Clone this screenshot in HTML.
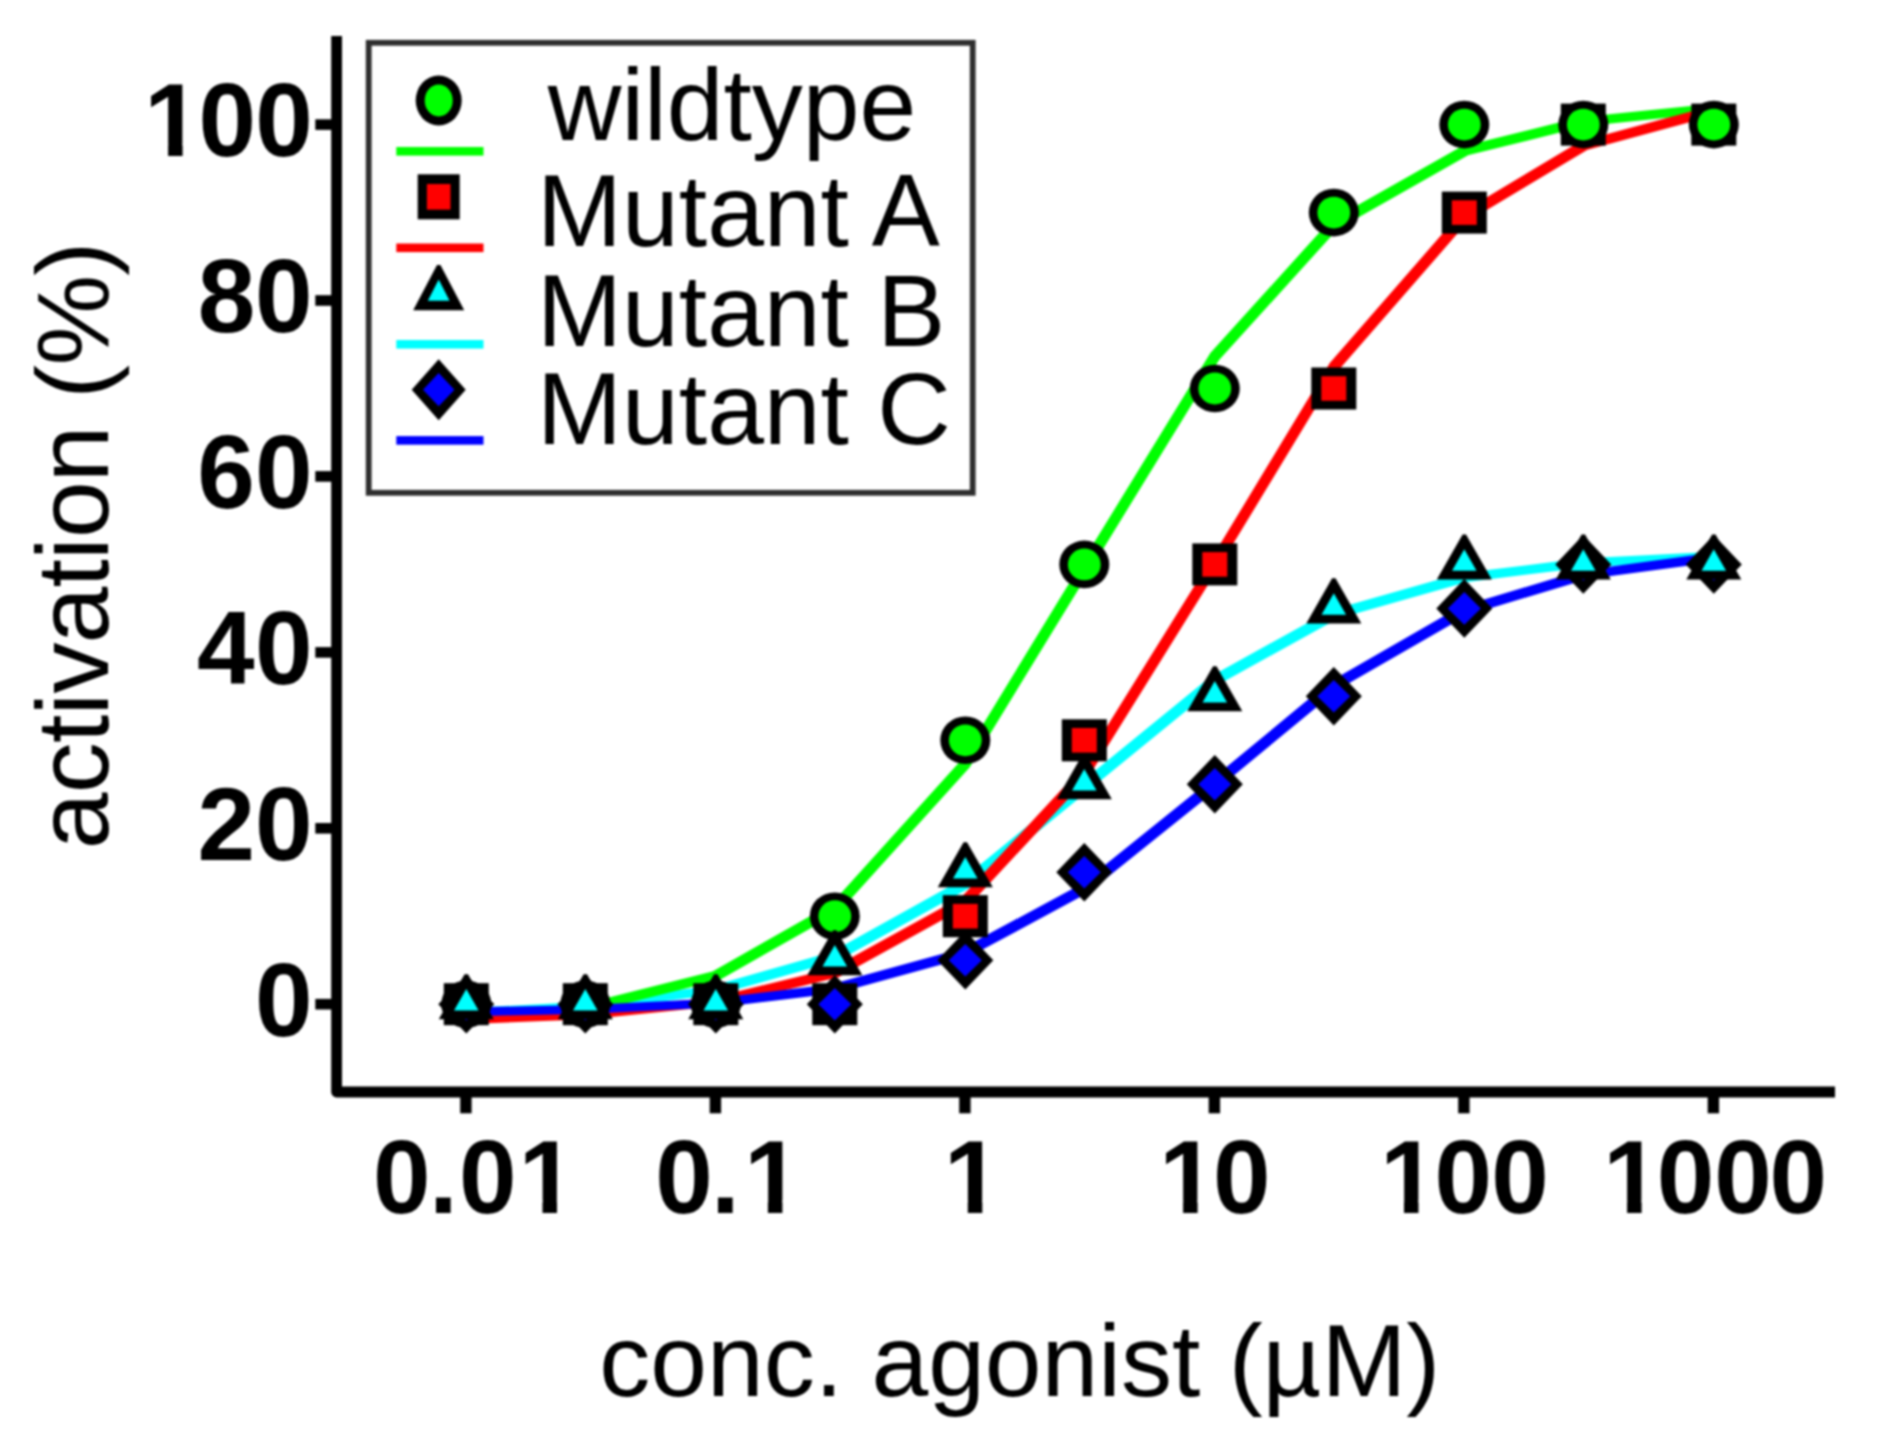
<!DOCTYPE html>
<html><head><meta charset="utf-8"><title>Dose response</title>
<style>
html,body{margin:0;padding:0;background:#fff;}
body{width:1877px;height:1454px;overflow:hidden;}
svg{display:block;filter:blur(0.9px);}
text{font-family:"Liberation Sans",Arial,Helvetica,sans-serif;fill:#000;}
.b{font-weight:bold;font-size:103.5px;}
.r{font-size:102px;}
</style></head><body>
<svg width="1877" height="1454" viewBox="0 0 1877 1454">
<rect width="1877" height="1454" fill="#fff"/>
<path d="M336.6 36V1092H1835" fill="none" stroke="#000" stroke-width="10.8" stroke-linejoin="round"/>
<rect x="315.3" y="998.9" width="18" height="10.6" fill="#000"/>
<rect x="315.3" y="823.0" width="18" height="10.6" fill="#000"/>
<rect x="315.3" y="647.1" width="18" height="10.6" fill="#000"/>
<rect x="315.3" y="471.1" width="18" height="10.6" fill="#000"/>
<rect x="315.3" y="295.2" width="18" height="10.6" fill="#000"/>
<rect x="315.3" y="119.3" width="18" height="10.6" fill="#000"/>
<rect x="460.2" y="1094" width="11.4" height="19.3" fill="#000"/>
<rect x="709.7" y="1094" width="11.4" height="19.3" fill="#000"/>
<rect x="959.2" y="1094" width="11.4" height="19.3" fill="#000"/>
<rect x="1208.7" y="1094" width="11.4" height="19.3" fill="#000"/>
<rect x="1458.2" y="1094" width="11.4" height="19.3" fill="#000"/>
<rect x="1707.7" y="1094" width="11.4" height="19.3" fill="#000"/>
<text class="b" x="144.1 198.5 255.3" y="156.4">100</text><rect x="149.3" y="143.8" width="18.8" height="14.5" fill="#fff"/><rect x="182.6" y="143.8" width="17.6" height="14.5" fill="#fff"/>
<text class="b" x="197.7 255.0" y="332.3">80</text>
<text class="b" x="197.2 255.0" y="508.2">60</text>
<text class="b" x="196.9 255.0" y="684.2">40</text>
<text class="b" x="197.5 255.0" y="860.1">20</text>
<text class="b" x="255.0" y="1036.0">0</text>
<text class="b" x="373.0 429.0 459.0 518.5" y="1212.8">0.01</text><rect x="523.7" y="1200.2" width="18.8" height="14.5" fill="#fff"/><rect x="557.0" y="1200.2" width="17.6" height="14.5" fill="#fff"/>
<text class="b" x="655.2 711.1 743.9" y="1212.8">0.1</text><rect x="749.1" y="1200.2" width="18.8" height="14.5" fill="#fff"/><rect x="782.4" y="1200.2" width="17.6" height="14.5" fill="#fff"/>
<text class="b" x="943.8" y="1212.8">1</text><rect x="949.0" y="1200.2" width="18.8" height="14.5" fill="#fff"/><rect x="982.3" y="1200.2" width="17.6" height="14.5" fill="#fff"/>
<text class="b" x="1159.1 1213.1" y="1212.8">10</text><rect x="1164.3" y="1200.2" width="18.8" height="14.5" fill="#fff"/><rect x="1197.6" y="1200.2" width="17.6" height="14.5" fill="#fff"/>
<text class="b" x="1380.0 1434.6 1491.3" y="1212.8">100</text><rect x="1385.2" y="1200.2" width="18.8" height="14.5" fill="#fff"/><rect x="1418.5" y="1200.2" width="17.6" height="14.5" fill="#fff"/>
<text class="b" x="1603.1 1656.8 1714.3 1769.5" y="1212.8">1000</text><rect x="1608.3" y="1200.2" width="18.8" height="14.5" fill="#fff"/><rect x="1641.6" y="1200.2" width="17.6" height="14.5" fill="#fff"/>
<text class="r" x="1019.8" y="1396" text-anchor="middle">conc. agonist (µM)</text>
<text class="r" transform="translate(108 545.8) rotate(-90)" text-anchor="middle" style="letter-spacing:-0.8px">activation (%)</text>
<polygon points="463.1,1009.2 582.1,1003.1 712.6,986.8 831.6,953.1 962.1,880.8 1081.1,783.5 1211.6,677.1 1330.6,611.4 1461.1,574.4 1580.1,559.7 1710.6,553.0 1717.0,553.0 1717.0,559.4 1586.5,566.1 1467.5,580.8 1337.0,617.8 1218.0,683.5 1087.5,789.9 968.5,887.2 838.0,959.5 719.0,993.2 588.5,1009.5 469.5,1015.6 463.1,1015.6" fill="#00ffff" stroke="#00ffff" stroke-width="2.2" stroke-linejoin="round"/>
<polygon points="463.1,1017.4 582.1,1005.2 712.6,972.6 831.6,905.2 962.1,760.7 1081.1,565.9 1211.6,353.2 1330.6,221.8 1461.1,147.9 1580.1,118.4 1710.6,105.0 1717.0,105.0 1717.0,111.4 1586.5,124.8 1467.5,154.3 1337.0,228.2 1218.0,359.6 1087.5,572.3 968.5,767.1 838.0,911.6 719.0,979.0 588.5,1011.6 469.5,1023.8 463.1,1023.8" fill="#00ff00" stroke="#00ff00" stroke-width="2.2" stroke-linejoin="round"/>
<polygon points="463.1,1016.5 582.1,1011.7 712.6,998.6 831.6,969.8 962.1,898.0 1081.1,770.1 1211.6,560.4 1330.6,363.8 1461.1,214.0 1580.1,142.6 1710.6,107.4 1717.0,107.4 1717.0,113.8 1586.5,149.0 1467.5,220.4 1337.0,370.2 1218.0,566.8 1087.5,776.5 968.5,904.4 838.0,976.2 719.0,1005.0 588.5,1018.1 469.5,1022.9 463.1,1022.9" fill="#ff0000" stroke="#ff0000" stroke-width="2.2" stroke-linejoin="round"/>
<polygon points="463.1,1008.7 582.1,1006.3 712.6,999.8 831.6,985.4 962.1,949.5 1081.1,885.5 1211.6,780.7 1330.6,682.4 1461.1,607.5 1580.1,571.8 1710.6,554.2 1717.0,554.2 1717.0,560.6 1586.5,578.2 1467.5,613.9 1337.0,688.8 1218.0,787.1 1087.5,891.9 968.5,955.9 838.0,991.8 719.0,1006.2 588.5,1012.7 469.5,1015.1 463.1,1015.1" fill="#0000ff" stroke="#0000ff" stroke-width="2.2" stroke-linejoin="round"/>
<rect x="443.8" y="983.2" width="45.0" height="42" fill="#000"/><rect x="453.8" y="991.9" width="25.0" height="24.6" fill="#ff0000"/>
<rect x="562.8" y="983.2" width="45.0" height="42" fill="#000"/><rect x="572.8" y="991.9" width="25.0" height="24.6" fill="#ff0000"/>
<rect x="693.3" y="983.2" width="45.0" height="42" fill="#000"/><rect x="703.3" y="991.9" width="25.0" height="24.6" fill="#ff0000"/>
<rect x="812.3" y="983.2" width="45.0" height="42" fill="#000"/><rect x="822.3" y="991.9" width="25.0" height="24.6" fill="#ff0000"/>
<rect x="942.8" y="895.2" width="45.0" height="42" fill="#000"/><rect x="952.8" y="903.9" width="25.0" height="24.6" fill="#ff0000"/>
<rect x="1061.8" y="719.3" width="45.0" height="42" fill="#000"/><rect x="1071.8" y="728.0" width="25.0" height="24.6" fill="#ff0000"/>
<rect x="1192.3" y="543.4" width="45.0" height="42" fill="#000"/><rect x="1202.3" y="552.1" width="25.0" height="24.6" fill="#ff0000"/>
<rect x="1311.3" y="367.5" width="45.0" height="42" fill="#000"/><rect x="1321.3" y="376.2" width="25.0" height="24.6" fill="#ff0000"/>
<rect x="1441.8" y="191.6" width="45.0" height="42" fill="#000"/><rect x="1451.8" y="200.3" width="25.0" height="24.6" fill="#ff0000"/>
<rect x="1560.8" y="103.6" width="45.0" height="42" fill="#000"/><rect x="1570.8" y="112.3" width="25.0" height="24.6" fill="#ff0000"/>
<rect x="1691.3" y="103.6" width="45.0" height="42" fill="#000"/><rect x="1701.3" y="112.3" width="25.0" height="24.6" fill="#ff0000"/>
<ellipse cx="466.3" cy="1004.2" rx="25" ry="23.8" fill="#000"/><ellipse cx="466.3" cy="1004.2" rx="16.4" ry="15.9" fill="#00ff00"/>
<ellipse cx="585.3" cy="1004.2" rx="25" ry="23.8" fill="#000"/><ellipse cx="585.3" cy="1004.2" rx="16.4" ry="15.9" fill="#00ff00"/>
<ellipse cx="715.8" cy="1004.2" rx="25" ry="23.8" fill="#000"/><ellipse cx="715.8" cy="1004.2" rx="16.4" ry="15.9" fill="#00ff00"/>
<ellipse cx="834.8" cy="916.2" rx="25" ry="23.8" fill="#000"/><ellipse cx="834.8" cy="916.2" rx="16.4" ry="15.9" fill="#00ff00"/>
<ellipse cx="965.3" cy="740.3" rx="25" ry="23.8" fill="#000"/><ellipse cx="965.3" cy="740.3" rx="16.4" ry="15.9" fill="#00ff00"/>
<ellipse cx="1084.3" cy="564.4" rx="25" ry="23.8" fill="#000"/><ellipse cx="1084.3" cy="564.4" rx="16.4" ry="15.9" fill="#00ff00"/>
<ellipse cx="1214.8" cy="388.5" rx="25" ry="23.8" fill="#000"/><ellipse cx="1214.8" cy="388.5" rx="16.4" ry="15.9" fill="#00ff00"/>
<ellipse cx="1333.8" cy="212.6" rx="25" ry="23.8" fill="#000"/><ellipse cx="1333.8" cy="212.6" rx="16.4" ry="15.9" fill="#00ff00"/>
<ellipse cx="1464.3" cy="124.6" rx="25" ry="23.8" fill="#000"/><ellipse cx="1464.3" cy="124.6" rx="16.4" ry="15.9" fill="#00ff00"/>
<ellipse cx="1583.3" cy="124.6" rx="25" ry="23.8" fill="#000"/><ellipse cx="1583.3" cy="124.6" rx="16.4" ry="15.9" fill="#00ff00"/>
<ellipse cx="1713.8" cy="124.6" rx="25" ry="23.8" fill="#000"/><ellipse cx="1713.8" cy="124.6" rx="16.4" ry="15.9" fill="#00ff00"/>
<path d="M466.3 974.9L494.3 1004.2L466.3 1033.5L438.3 1004.2Z" fill="#000"/><path d="M466.3 987.9L482.8 1004.2L466.3 1020.5L449.8 1004.2Z" fill="#0000ff"/>
<path d="M585.3 974.9L613.3 1004.2L585.3 1033.5L557.3 1004.2Z" fill="#000"/><path d="M585.3 987.9L601.8 1004.2L585.3 1020.5L568.8 1004.2Z" fill="#0000ff"/>
<path d="M715.8 974.9L743.8 1004.2L715.8 1033.5L687.8 1004.2Z" fill="#000"/><path d="M715.8 987.9L732.3 1004.2L715.8 1020.5L699.3 1004.2Z" fill="#0000ff"/>
<path d="M834.8 974.9L862.8 1004.2L834.8 1033.5L806.8 1004.2Z" fill="#000"/><path d="M834.8 987.9L851.3 1004.2L834.8 1020.5L818.3 1004.2Z" fill="#0000ff"/>
<path d="M965.3 930.9L993.3 960.2L965.3 989.5L937.3 960.2Z" fill="#000"/><path d="M965.3 943.9L981.8 960.2L965.3 976.5L948.8 960.2Z" fill="#0000ff"/>
<path d="M1084.3 843.0L1112.3 872.3L1084.3 901.6L1056.3 872.3Z" fill="#000"/><path d="M1084.3 856.0L1100.8 872.3L1084.3 888.6L1067.8 872.3Z" fill="#0000ff"/>
<path d="M1214.8 755.0L1242.8 784.3L1214.8 813.6L1186.8 784.3Z" fill="#000"/><path d="M1214.8 768.0L1231.3 784.3L1214.8 800.6L1198.3 784.3Z" fill="#0000ff"/>
<path d="M1333.8 667.0L1361.8 696.3L1333.8 725.6L1305.8 696.3Z" fill="#000"/><path d="M1333.8 680.0L1350.3 696.3L1333.8 712.6L1317.3 696.3Z" fill="#0000ff"/>
<path d="M1464.3 579.1L1492.3 608.4L1464.3 637.7L1436.3 608.4Z" fill="#000"/><path d="M1464.3 592.1L1480.8 608.4L1464.3 624.7L1447.8 608.4Z" fill="#0000ff"/>
<path d="M1583.3 535.1L1611.3 564.4L1583.3 593.7L1555.3 564.4Z" fill="#000"/><path d="M1583.3 548.1L1599.8 564.4L1583.3 580.7L1566.8 564.4Z" fill="#0000ff"/>
<path d="M1713.8 535.1L1741.8 564.4L1713.8 593.7L1685.8 564.4Z" fill="#000"/><path d="M1713.8 548.1L1730.3 564.4L1713.8 580.7L1697.3 564.4Z" fill="#0000ff"/>
<path d="M464.6 974.2H468.0L493.8 1019.2H438.8Z" fill="#000"/><path d="M466.3 989.0L478.6 1010.5H454.0Z" fill="#00ffff"/>
<path d="M583.6 974.2H587.0L612.8 1019.2H557.8Z" fill="#000"/><path d="M585.3 989.0L597.6 1010.5H573.0Z" fill="#00ffff"/>
<path d="M714.1 974.2H717.5L743.3 1019.2H688.3Z" fill="#000"/><path d="M715.8 989.0L728.1 1010.5H703.5Z" fill="#00ffff"/>
<path d="M833.1 930.2H836.5L862.3 975.2H807.3Z" fill="#000"/><path d="M834.8 945.0L847.1 966.5H822.5Z" fill="#00ffff"/>
<path d="M963.6 842.2H967.0L992.8 887.3H937.8Z" fill="#000"/><path d="M965.3 857.1L977.6 878.6H953.0Z" fill="#00ffff"/>
<path d="M1082.6 754.3H1086.0L1111.8 799.3H1056.8Z" fill="#000"/><path d="M1084.3 769.1L1096.6 790.6H1072.0Z" fill="#00ffff"/>
<path d="M1213.1 666.3H1216.5L1242.3 711.3H1187.3Z" fill="#000"/><path d="M1214.8 681.1L1227.1 702.6H1202.5Z" fill="#00ffff"/>
<path d="M1332.1 578.3H1335.5L1361.3 623.4H1306.3Z" fill="#000"/><path d="M1333.8 593.2L1346.1 614.7H1321.5Z" fill="#00ffff"/>
<path d="M1462.6 534.4H1466.0L1491.8 579.4H1436.8Z" fill="#000"/><path d="M1464.3 549.2L1476.6 570.7H1452.0Z" fill="#00ffff"/>
<path d="M1581.6 534.4H1585.0L1610.8 579.4H1555.8Z" fill="#000"/><path d="M1583.3 549.2L1595.6 570.7H1571.0Z" fill="#00ffff"/>
<path d="M1712.1 534.4H1715.5L1741.3 579.4H1686.3Z" fill="#000"/><path d="M1713.8 549.2L1726.1 570.7H1701.5Z" fill="#00ffff"/>
<rect x="368.7" y="42.8" width="604" height="450" fill="#fff" stroke="#2e2e2e" stroke-width="5.8"/>
<rect x="396.3" y="147.0" width="87.2" height="8.6" fill="#00ff00"/>
<ellipse cx="438.7" cy="100.5" rx="23" ry="25" fill="#000"/><ellipse cx="438.7" cy="100.5" rx="14" ry="15.9" fill="#00ff00"/>
<text class="r" x="547.8" y="139.5">wildtype</text>
<rect x="396.3" y="243.5" width="87.2" height="8.6" fill="#ff0000"/>
<rect x="417.7" y="174.3" width="42" height="45.0" fill="#000"/><rect x="426.9" y="184.0" width="23.6" height="25.6" fill="#ff0000"/>
<text class="r" x="537.1" y="245.5">Mutant A</text>
<rect x="396.3" y="340.0" width="87.2" height="8.6" fill="#00ffff"/>
<path d="M437.0 264.9H440.4L464.2 310.3H413.2Z" fill="#000"/><path d="M438.7 279.6L449.6 300.8H427.8Z" fill="#00ffff"/>
<text class="r" x="537.1" y="346.2">Mutant B</text>
<rect x="396.3" y="436.1" width="87.2" height="8.6" fill="#0000ff"/>
<path d="M438.7 359.2L465.7 389.7L438.7 420.2L411.7 389.7Z" fill="#000"/><path d="M438.7 373.1L454.4 389.7L438.7 406.3L423.0 389.7Z" fill="#0000ff"/>
<text class="r" x="537.1" y="444.4">Mutant C</text>
</svg></body></html>
